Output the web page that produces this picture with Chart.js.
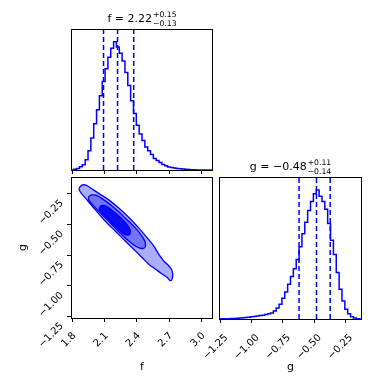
<!DOCTYPE html>
<html>
<head>
<meta charset="utf-8">
<script src="https://cdn.jsdelivr.net/npm/chart.js@4.4.1/dist/chart.umd.min.js"></script>
<style>
  html, body { margin: 0; padding: 0; background: #fff; }
  #wrap { position: relative; width: 390px; height: 390px; overflow: hidden; }
  canvas { position: absolute; }
</style>
</head>
<body>
<div id="wrap">
  <canvas id="hist-f" width="220" height="175" style="left:0px;top:0px"></canvas>
  <canvas id="contour-fg" width="220" height="218" style="left:0px;top:172px"></canvas>
  <canvas id="hist-g" width="190" height="240" style="left:200px;top:150px"></canvas>
</div>
<script>
// axis ranges and tick labels
const fRange = [1.788, 3.106];
const gRange = [-1.262, -0.115];
const fTicks = [1.8, 2.1, 2.4, 2.7, 3.0];
const gTicks = [-1.25, -1.0, -0.75, -0.5, -0.25];

// quantiles (16/50/84) shown as dashed lines
const fQuantiles = [2.09, 2.22, 2.37];
const gQuantiles = [-0.62, -0.48, -0.37];
const fTitle = ['f = 2.22', '+0.15', '\u22120.13'];
const gTitle = ['g = \u22120.48', '+0.11', '\u22120.14'];

// histogram counts (50 bins over the axis range)
const fCounts = [0, 5, 12, 25, 40, 80, 150, 250, 360, 470,
  580, 690, 790, 880, 950, 1000, 960, 910, 850, 760,
  660, 540, 440, 350, 280, 230, 180, 150, 120, 90,
  75, 58, 42, 33, 24, 19, 15, 11, 9, 7,
  5, 3, 2, 1, 0, 0, 0, 0, 0, 0];
const gCounts = [0, 1, 1, 2, 3, 4, 5, 7, 9, 11,
  14, 17, 20, 24, 27, 30, 35, 40, 46, 62,
  85, 115, 160, 210, 270, 330, 390, 460, 560, 660,
  750, 840, 910, 970, 1000, 950, 910, 850, 740, 610,
  500, 360, 230, 140, 75, 40, 18, 7, 2, 0];

// 2D contours (f, g)
const contourOuterF = [1.865, 1.890, 1.927, 1.967, 2.045, 2.138, 2.231, 2.323, 2.416, 2.494, 2.556, 2.602, 2.648, 2.695, 2.719, 2.732, 2.726, 2.710, 2.679, 2.633, 2.571, 2.509, 2.447, 2.370, 2.292, 2.200, 2.107, 2.014, 1.936, 1.884, 1.865];
const contourOuterG = [-0.202, -0.181, -0.181, -0.202, -0.248, -0.301, -0.368, -0.443, -0.529, -0.609, -0.676, -0.743, -0.797, -0.837, -0.864, -0.904, -0.944, -0.958, -0.931, -0.904, -0.864, -0.824, -0.770, -0.703, -0.636, -0.556, -0.475, -0.382, -0.301, -0.248, -0.221];
const contourMidF = [1.952, 1.983, 2.029, 2.107, 2.200, 2.292, 2.385, 2.447, 2.478, 2.472, 2.432, 2.385, 2.308, 2.231, 2.138, 2.045, 1.983, 1.952];
const contourMidG = [-0.274, -0.261, -0.266, -0.309, -0.374, -0.449, -0.529, -0.596, -0.650, -0.690, -0.695, -0.676, -0.623, -0.561, -0.475, -0.395, -0.336, -0.301];
const contourInnerF = [2.051, 2.076, 2.122, 2.200, 2.277, 2.330, 2.339, 2.317, 2.277, 2.215, 2.138, 2.076, 2.051];
const contourInnerG = [-0.363, -0.347, -0.355, -0.408, -0.470, -0.529, -0.569, -0.588, -0.577, -0.529, -0.462, -0.408, -0.382];

Chart.defaults.font.family = "'DejaVu Sans', sans-serif";
Chart.defaults.font.size = 10;
Chart.defaults.color = '#000';
Chart.defaults.animation = false;

const BLUE = '#0000ff';
const minus = v => v.replace('-', '\u2212');

function stepData(range, counts) {
  const w = (range[1] - range[0]) / counts.length;
  const pts = [{x: range[0], y: 0}];
  counts.forEach((c, i) => pts.push({x: range[0] + i * w, y: c}));
  pts.push({x: range[1], y: counts[counts.length - 1]});
  pts.push({x: range[1], y: 0});
  return pts;
}

function closed(xs, ys) {
  const pts = xs.map((x, i) => ({x: x, y: ys[i]}));
  pts.push(pts[0]);
  return pts;
}

const framePlugin = {
  id: 'frame',
  afterDraw(chart) {
    const a = chart.chartArea, ctx = chart.ctx;
    ctx.save();
    ctx.strokeStyle = '#000';
    ctx.lineWidth = 1;
    ctx.strokeRect(Math.round(a.left) + 0.5, Math.round(a.top) + 0.5,
      Math.round(a.right - a.left) - 1, Math.round(a.bottom - a.top));
    ctx.restore();
  }
};

const titlePlugin = {
  id: 'mtitle',
  afterDraw(chart, args, opts) {
    if (!opts.text) return;
    const ctx = chart.ctx, a = chart.chartArea;
    ctx.save();
    ctx.fillStyle = '#000';
    ctx.textBaseline = 'alphabetic';
    ctx.font = "11px 'DejaVu Sans'";
    const wMain = ctx.measureText(opts.text[0]).width;
    ctx.font = "7.7px 'DejaVu Sans'";
    const wScript = Math.max(ctx.measureText(opts.text[1]).width, ctx.measureText(opts.text[2]).width);
    const x0 = (a.left + a.right) / 2 - (wMain + wScript + 1) / 2;
    const base = a.top - 7;
    ctx.font = "11px 'DejaVu Sans'";
    ctx.textAlign = 'left';
    ctx.fillText(opts.text[0], x0, base);
    ctx.font = "7.7px 'DejaVu Sans'";
    ctx.fillText(opts.text[1], x0 + wMain + 1, base - 5);
    ctx.fillText(opts.text[2], x0 + wMain + 1, base + 3.5);
    ctx.restore();
  }
};

// fixed axis size, and no extra margins from rotated labels
const fixSize = (key, size) => s => {
  s[key] = size;
  s.paddingLeft = s.paddingRight = s.paddingTop = s.paddingBottom = 0;
};

function tickAxis(range, ticks, fmt, extra) {
  return Object.assign({
    type: 'linear',
    min: range[0],
    max: range[1],
    afterBuildTicks: s => { s.ticks = ticks.map(v => ({value: v})); },
    ticks: {callback: fmt, padding: 1, font: {size: 10}},
    grid: {drawOnChartArea: false, color: '#000', tickLength: 4, lineWidth: 1},
    border: {display: false}
  }, extra);
}

const fmtF = v => v.toFixed(1);
const fmtG = v => minus(v.toFixed(2));
const axisTitle = text => ({display: true, text: text, font: {size: 11}, padding: {top: 16.4, bottom: 16.4}});
const rotTicks = (fmt, pad, offset) => ({callback: fmt, padding: pad, labelOffset: offset,
  minRotation: 45, maxRotation: 45, font: {size: 10}});

function histChart(id, range, counts, quantiles, ticks, fmt, title, pad) {
  const yMax = Math.max(...counts) * 1.1;
  const datasets = [{
    data: stepData(range, counts),
    showLine: true, stepped: true, borderColor: BLUE, borderWidth: 1.5,
    pointRadius: 0, fill: false
  }];
  quantiles.forEach(q => datasets.push({
    data: [{x: q, y: 0}, {x: q, y: yMax}],
    showLine: true, borderColor: BLUE, borderWidth: 1.5, borderDash: [5, 3],
    pointRadius: 0, fill: false
  }));
  return new Chart(document.getElementById(id).getContext('2d'), {
    type: 'scatter',
    data: {datasets: datasets},
    options: {
      responsive: false,
      layout: {padding: pad},
      plugins: {legend: {display: false}, tooltip: {enabled: false}, mtitle: {text: title}},
      scales: {
        x: tickAxis(range, ticks, fmt, {
          afterFit: fixSize('height', pad.axisH),
          ticks: pad.labels ? rotTicks(fmt, 9, 6) : {callback: fmt, color: 'rgba(0,0,0,0)'},
          title: pad.labels ? axisTitle(pad.labels) : {display: false}
        }),
        y: {display: false, min: 0, max: yMax}
      }
    },
    plugins: [framePlugin, titlePlugin]
  });
}

histChart('hist-f', fRange, fCounts, fQuantiles, fTicks, fmtF, fTitle,
  {left: 71, right: 7, top: 29, bottom: 0, axisH: 5});
histChart('hist-g', gRange, gCounts, gQuantiles, gTicks, fmtG, gTitle,
  {left: 19, right: 28, top: 27, bottom: 0, axisH: 71, labels: 'g'});

new Chart(document.getElementById('contour-fg').getContext('2d'), {
  type: 'scatter',
  data: {
    datasets: [
      {data: closed(contourOuterF, contourOuterG), order: 3, backgroundColor: '#adadfd'},
      {data: closed(contourMidF, contourMidG), order: 2, backgroundColor: '#7373fb'},
      {data: closed(contourInnerF, contourInnerG), order: 1, backgroundColor: '#0a0af5'}
    ].map(d => Object.assign(d, {
      showLine: true, fill: 'shape', borderColor: BLUE, borderWidth: 1.3,
      pointRadius: 0, tension: 0.3
    }))
  },
  options: {
    responsive: false,
    layout: {padding: {left: 0, right: 7, top: 5, bottom: 0}},
    plugins: {legend: {display: false}, tooltip: {enabled: false}},
    scales: {
      x: tickAxis(fRange, fTicks, fmtF, {
        afterFit: fixSize('height', 72),
        ticks: rotTicks(fmtF, 8, 2),
        title: axisTitle('f')
      }),
      y: tickAxis(gRange, gTicks, fmtG, {
        afterFit: fixSize('width', 71),
        ticks: rotTicks(fmtG, 5, 8),
        title: axisTitle('g')
      })
    }
  },
  plugins: [framePlugin]
});
</script>
</body>
</html>
